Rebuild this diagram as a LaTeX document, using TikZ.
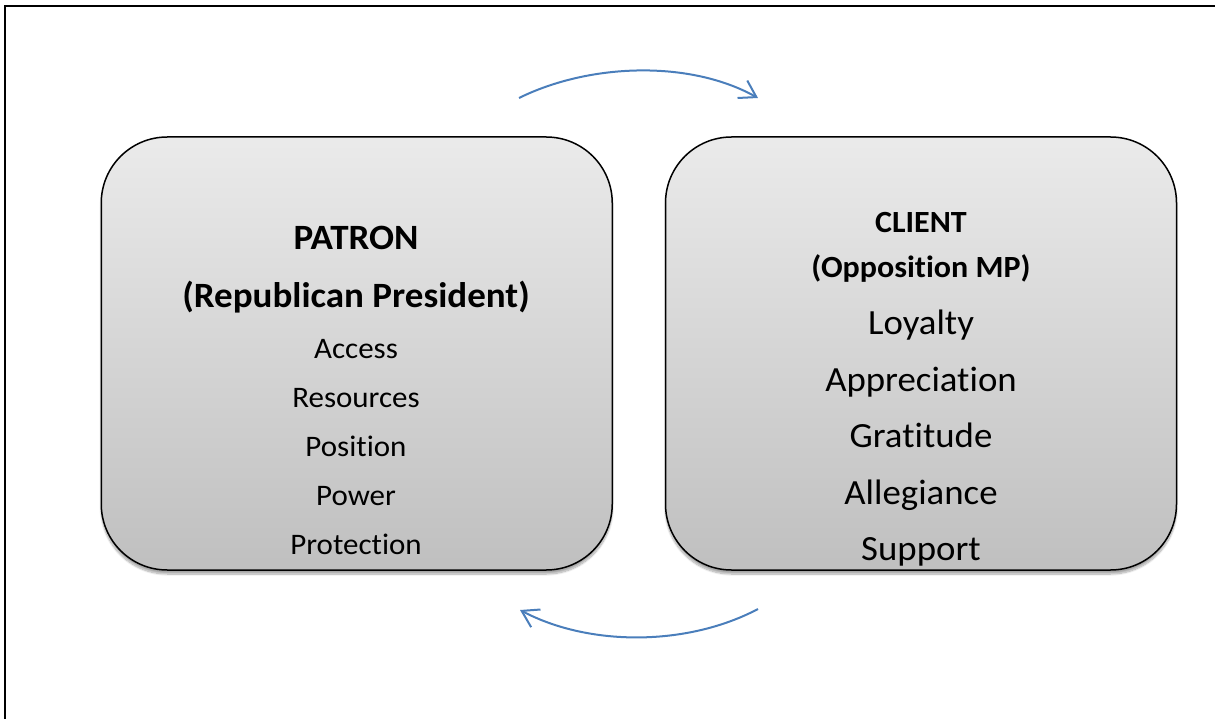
\documentclass[tikz,border=0pt]{standalone}
\usepackage{fontspec}
\setmainfont{Carlito}[Ligatures=NoCommon, FakeStretch=1.04]
\usetikzlibrary{arrows.meta,shadows.blur}
\definecolor{arrowblue}{HTML}{4A7EBB}
\begin{document}
\begin{tikzpicture}[x=1pt,y=-1pt,
  box/.style={draw=black, line width=1.5pt, rounded corners=66pt,
    minimum width=511pt, minimum height=433pt, inner sep=0pt,
    top color=black!8, bottom color=black!25,
    blur shadow={shadow xshift=0pt, shadow yshift=-4pt, shadow blur steps=10, shadow opacity=35}},
  head/.style={anchor=base, font=\bfseries\fontsize{35.6}{40}\selectfont},
  item/.style={anchor=base, font=\fontsize{29.8}{34}\selectfont},
  chead/.style={anchor=base, font=\bfseries\fontsize{30.8}{36}\selectfont},
  citem/.style={anchor=base, font=\fontsize{35.4}{40}\selectfont},
  flow/.style={draw=arrowblue, line width=2pt, -{Straight Barb[length=16pt,width=20pt,line width=2pt]}}]
\useasboundingbox (0,0) rectangle (1215,719);
\draw[line width=2pt] (5,719) -- (5,6.5) -- (1215,6.5);
\node[box] (patron) at (356.75,353.5) {};
\node[box] (client) at (921,353.5) {};
\node[head] (p1) at (356,250) {PATRON};
\node[head] (p2) at (356,307) {(Republican President)};
\node[item] (p3) at (356,358) {Access};
\node[item] (p4) at (356,407) {Resources};
\node[item] (p5) at (356,456) {Position};
\node[item] (p6) at (356,505) {Power};
\node[item] (p7) at (356,554) {Protection};
\node[chead] (c1) at (921,233) {CLIENT};
\node[chead] (c2) at (921,278) {(Opposition MP)};
\node[citem] (c3) at (921,334) {Loyalty};
\node[citem] (c4) at (921,391) {Appreciation};
\node[citem] (c5) at (921,447) {Gratitude};
\node[citem] (c6) at (921,504) {Allegiance};
\node[citem] (c7) at (921,560) {Support};
\coordinate (ta) at (519,98);
\coordinate (tb) at (758,98);
\coordinate (ba) at (758,609);
\coordinate (bb) at (520,610);
\draw[flow] (ta) .. controls (590,63) and (690,60) .. (tb);
\draw[flow] (ba) .. controls (688,646) and (590,647) .. (bb);
\end{tikzpicture}
\end{document}
